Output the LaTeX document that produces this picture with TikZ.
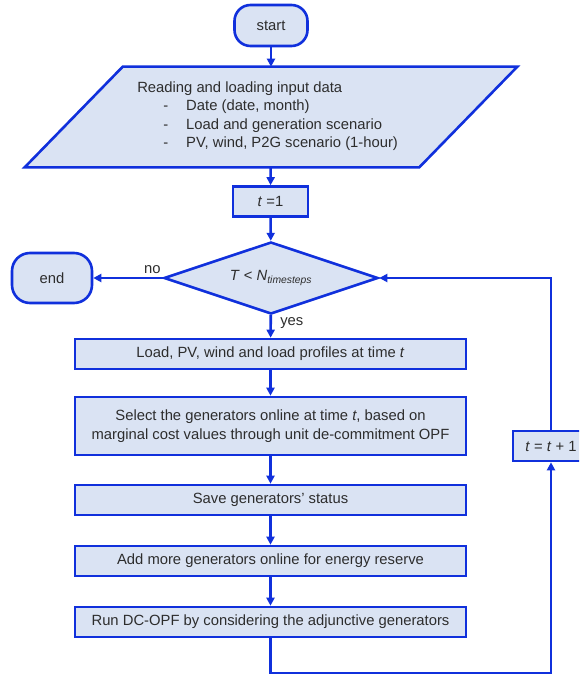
\documentclass[tikz,border=0pt]{standalone}
\usepackage{fontspec}
\setmainfont{Liberation Sans}
\usetikzlibrary{shapes.geometric,arrows.meta}
\definecolor{flowblue}{RGB}{16,48,220}
\definecolor{flowfill}{RGB}{218,227,243}
\definecolor{flowtext}{RGB}{45,45,45}
\begin{document}
\begin{tikzpicture}[x=1pt,y=-1pt,line width=2.6pt,
  >={Triangle[length=8pt,width=8pt]},
  every node/.style={font=\fontsize{14.8}{18.5}\selectfont,text=flowtext},
  box/.style={draw=flowblue,fill=flowfill,minimum width=391pt,minimum height=30pt,align=center,inner sep=0pt},
  term/.style={draw=flowblue,fill=flowfill,rounded corners=16pt},
  link/.style={draw=flowblue,->}]
  \useasboundingbox (0,0) rectangle (579,674);
  \clip (0,0) rectangle (579,674);
  \node[term,minimum width=73pt,minimum height=41pt] (start) at (271,25.5) {start};
  \node[minimum width=392pt,minimum height=98pt] (input) at (271,117) {};
  \filldraw[draw=flowblue,fill=flowfill] ([xshift=49pt]input.north west) -- ([xshift=49pt]input.north east)
    -- ([xshift=-49pt]input.south east) -- ([xshift=-49pt]input.south west) -- cycle;
  \node[anchor=west,align=left,inner sep=0pt] (inputtxt) at (136,116) {Reading and loading input data\\
    \hspace{26pt}-\hspace{18pt}Date (date, month)\\
    \hspace{26pt}-\hspace{18pt}Load and generation scenario\\
    \hspace{26pt}-\hspace{18pt}PV, wind, P2G scenario (1-hour)};
  \node[box,minimum width=75pt] (tinit) at (270.5,201.5) {\textit{t} =1};
  \node[diamond,aspect=3,draw=flowblue,fill=flowfill,minimum width=214pt,minimum height=72pt,inner sep=0pt] (cond) at (271,278)
    {\textit{T} < \textit{N}\textsubscript{\textit{timesteps}}};
  \node[term,minimum width=80pt,minimum height=50pt,rounded corners=18pt] (stop) at (52,278) {end};
  \node[box] (prof) at (270.5,354) {Load, PV, wind and load profiles at time \textit{t}};
  \node[box,minimum height=58pt] (select) at (270.5,426) {Select the generators online at time \textit{t}, based on\\
    marginal cost values through unit de-commitment OPF};
  \node[box] (save) at (270.5,500) {Save generators’ status};
  \node[box] (reserve) at (270.5,561) {Add more generators online for energy reserve};
  \node[box] (dcopf) at (270.5,622) {Run DC-OPF by considering the adjunctive generators};
  \node[box,minimum width=76pt] (incr) at (551,446) {\textit{t} = \textit{t} + 1};
  \draw[link] (start) -- (input);
  \draw[link] (input) -- (tinit);
  \draw[link] (tinit) -- (cond);
  \draw[link] (cond.west) -- node[pos=0.15,above]{no} (stop);
  \draw[link] (cond) -- node[pos=0.35,right,xshift=5pt]{yes} (prof);
  \draw[link] (prof) -- (select);
  \draw[link] (select) -- (save);
  \draw[link] (save) -- (reserve);
  \draw[link] (reserve) -- (dcopf);
  \draw[link] (dcopf.south) -- ++(0,35) -| (incr.south);
  \draw[link] (incr.north) |- (cond.east);
\end{tikzpicture}
\end{document}
